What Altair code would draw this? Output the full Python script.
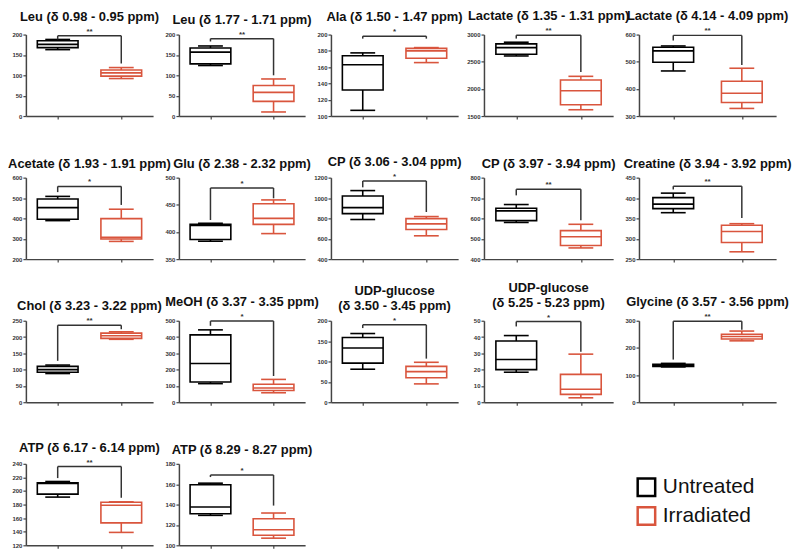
import altair as alt
import pandas as pd

RED = "#d9553d"
groups = ["Untreated", "Irradiated"]
positions = [1, 3]

titles = [
    "Leu (δ 0.98 - 0.95 ppm)", "Leu (δ 1.77 - 1.71 ppm)", "Ala (δ 1.50 - 1.47 ppm)",
    "Lactate (δ 1.35 - 1.31 ppm)", "Lactate (δ 4.14 - 4.09 ppm)",
    "Acetate (δ 1.93 - 1.91 ppm)", "Glu (δ 2.38 - 2.32 ppm)", "CP (δ 3.06 - 3.04 ppm)",
    "CP (δ 3.97 - 3.94 ppm)", "Creatine (δ 3.94 - 3.92 ppm)",
    "Chol (δ 3.23 - 3.22 ppm)", "MeOH (δ 3.37 - 3.35 ppm)",
    ["UDP-glucose", "(δ 3.50 - 3.45 ppm)"], ["UDP-glucose", "(δ 5.25 - 5.23 ppm)"],
    "Glycine (δ 3.57 - 3.56 ppm)",
    "ATP (δ 6.17 - 6.14 ppm)", "ATP (δ 8.29 - 8.27 ppm)",
]

y_ticks = [
    [0, 50, 100, 150, 200], [0, 50, 100, 150, 200], [100, 120, 140, 160, 180, 200],
    [1500, 2000, 2500, 3000], [300, 400, 500, 600],
    [200, 300, 400, 500, 600], [350, 400, 450, 500], [400, 600, 800, 1000, 1200],
    [400, 500, 600, 700, 800], [250, 300, 350, 400, 450],
    [0, 50, 100, 150, 200, 250], [0, 100, 200, 300, 400, 500], [0, 50, 100, 150, 200],
    [0, 10, 20, 30, 40, 50], [0, 100, 200, 300],
    [120, 140, 160, 180, 200, 220, 240], [100, 120, 140, 160, 180],
]

# (min, q1, median, q3, max)
untreated = [
    (163, 168, 176, 185, 188), (124, 128, 157, 167, 172), (107, 132, 163, 174, 177.5),
    (2606, 2637, 2760, 2828, 2859), (466, 498, 540, 553, 558),
    (389, 396, 453, 495, 508), (383, 386, 412, 414, 416), (789, 847, 906, 1020, 1073),
    (580, 589, 637, 650, 668), (364, 374, 385, 401, 412),
    (88, 92, 100, 110, 114), (114, 124, 238, 413, 444), (81, 96, 133, 159, 168.6),
    (18.4, 20, 26.2, 37.6, 40.9), (130, 132, 136, 140, 143),
    (191, 195.4, 211, 212, 214), (129.4, 131, 137.6, 159.4, 161),
]
irradiated = [
    (92, 98, 106, 113, 119), (10, 36, 58, 75, 91), (165.6, 171, 180, 183, 184),
    (1616, 1709, 1967, 2164, 2231), (328, 350, 384, 428, 476),
    (287, 299, 307, 399, 445), (397, 414, 425, 452, 459), (629, 691, 746, 798, 818),
    (455, 467, 510, 540, 571), (268, 291, 318, 333, 337),
    (193, 196, 204, 212, 216), (58, 72, 87, 110, 140), (45, 60, 75, 88, 98),
    (2.7, 4.8, 8, 17.1, 29.5), (226, 233, 242, 250, 262),
    (139, 153, 179, 183.5, 184), (107, 109.8, 115.3, 126, 131.7),
]
# (bracket level, left leg bottom, right leg bottom)
brackets = [
    (197, 188, 129), (190, 183, 100), (198, 195, 195), (2988, 2926, 2311), (597, 578, 488),
    (557, 529, 466), (481, 422, 462), (1167, 1105, 863), (743, 713, 591), (429, 421, 351),
    (236, 127, 224), (498, 469, 161), (190, 182, 107), (49.5, 46.5, 31), (298, 157, 267),
    (236, 219, 190), (169, 167, 139),
]
stars = ["**", "**", "*", "**", "**", "*", "*", "*", "**", "**",
         "**", "*", "*", "*", "**", "**", "*"]

BOX_PX = 41
CAP_PX = 25
col_widths = [128, 127, 128, 130, 138]
H = 82
AX = "#444444"

stroke_enc = alt.Stroke(
    "group:N",
    scale=alt.Scale(domain=groups, range=["black", RED]),
    legend=alt.Legend(title=None, symbolType="square", symbolSize=310,
                      symbolStrokeWidth=2.5, symbolFillColor="white",
                      labelFontSize=21, labelFont="Liberation Sans", labelColor="#111",
                      rowPadding=0, labelOffset=6, orient="none",
                      legendX=614, legendY=445),
)


def panel(k):
    u, r = untreated[k], irradiated[k]
    t = y_ticks[k]
    w = col_widths[k % 5]
    unit = w / 4.0
    bh = BOX_PX / 2 / unit
    ch = CAP_PX / 2 / unit
    df = pd.DataFrame({
        "group": groups, "pos": positions,
        "lo": [u[0], r[0]], "q1": [u[1], r[1]], "med": [u[2], r[2]],
        "q3": [u[3], r[3]], "hi": [u[4], r[4]],
    })
    df["xl"] = df["pos"] - bh
    df["xr"] = df["pos"] + bh
    df["cl"] = df["pos"] - ch
    df["cr"] = df["pos"] + ch

    ysc = alt.Scale(domain=[t[0], t[-1]], nice=False, zero=False)
    yax = alt.Axis(values=t, title=None, grid=False, format="d")
    xsc = alt.Scale(domain=[0, 4], nice=False, zero=False)
    xax = alt.Axis(values=positions, labels=False, title=None, grid=False)

    base = alt.Chart(df)
    whisk = base.mark_rule(strokeWidth=1.6).encode(
        x=alt.X("pos:Q", scale=xsc, axis=xax),
        y=alt.Y("lo:Q", scale=ysc, axis=yax), y2="hi:Q", stroke=stroke_enc)
    box = base.mark_rect(fill="white", strokeWidth=1.6).encode(
        x=alt.X("xl:Q", scale=xsc, axis=xax), x2="xr:Q",
        y=alt.Y("q1:Q", scale=ysc, axis=yax), y2="q3:Q", stroke=stroke_enc)
    med = base.mark_rule(strokeWidth=1.6).encode(
        x=alt.X("xl:Q", scale=xsc, axis=xax), x2="xr:Q",
        y=alt.Y("med:Q", scale=ysc, axis=yax), stroke=stroke_enc)
    cap_lo = base.mark_rule(strokeWidth=1.6).encode(
        x=alt.X("cl:Q", scale=xsc, axis=xax), x2="cr:Q",
        y=alt.Y("lo:Q", scale=ysc, axis=yax), stroke=stroke_enc)
    cap_hi = base.mark_rule(strokeWidth=1.6).encode(
        x=alt.X("cl:Q", scale=xsc, axis=xax), x2="cr:Q",
        y=alt.Y("hi:Q", scale=ysc, axis=yax), stroke=stroke_enc)

    by, lb, rb = brackets[k]
    bdf = pd.DataFrame({
        "x": [positions[0], positions[0], positions[1]],
        "x2": [positions[0], positions[1], positions[1]],
        "y": [lb, by, rb],
        "y2": [by, by, by],
    })
    br = alt.Chart(bdf).mark_rule(color="#333333", strokeWidth=1.5).encode(
        x=alt.X("x:Q", scale=xsc, axis=xax), x2="x2:Q",
        y=alt.Y("y:Q", scale=ysc, axis=yax), y2="y2:Q")
    sdf = pd.DataFrame({"x": [sum(positions) / 2], "y": [by], "s": [stars[k]]})
    st = alt.Chart(sdf).mark_text(baseline="bottom", dy=0, fontSize=8,
                                  fontWeight="bold", color="#333333",
                                  font="Liberation Sans").encode(
        x=alt.X("x:Q", scale=xsc, axis=xax),
        y=alt.Y("y:Q", scale=ysc, axis=yax), text="s:N")

    return alt.layer(whisk, box, med, cap_lo, cap_hi, br, st).properties(
        width=w, height=H,
        title=alt.TitleParams(text=titles[k], anchor="middle", frame="group",
                              fontSize=13, font="Liberation Sans", fontWeight="bold",
                              color="#111111", offset=4, lineHeight=15),
    )


chart = alt.concat(
    *[panel(k) for k in range(len(titles))],
    columns=5, bounds="flush", spacing=alt.RowColnumber(row=62, column=26),
).properties(
    padding={"left": 0, "top": 0, "right": 0, "bottom": 0}
).configure_view(strokeWidth=0).configure_axis(
    domainColor=AX, domainWidth=1.5, tickColor=AX, tickWidth=1.2, tickSize=3,
    labelFontSize=6, labelFont="Liberation Sans", labelFontWeight="bold",
    labelColor="#333333", labelPadding=1, grid=False,
)

chart.save("out.html", embed_options={"renderer": "svg", "actions": False})
